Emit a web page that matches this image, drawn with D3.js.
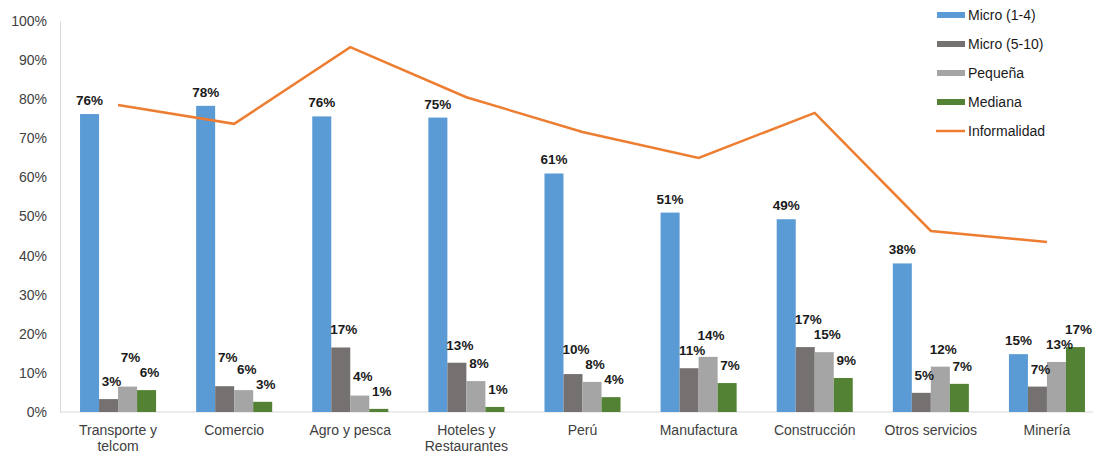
<!DOCTYPE html>
<html><head><meta charset="utf-8">
<script src="https://cdn.jsdelivr.net/npm/d3@7"></script>
<style>body{margin:0;background:#fff}svg{display:block;font-family:"Liberation Sans",Arial,sans-serif}</style>
</head><body><svg id="c" width="1093" height="455"></svg>
<script>
const categories = ["Transporte y|telcom","Comercio","Agro y pesca","Hoteles y|Restaurantes","Perú","Manufactura","Construcción","Otros servicios","Minería"];
const seriesNames = ["Micro (1-4)","Micro (5-10)","Pequeña","Mediana"];
const micro14 = [76.2,78.3,75.6,75.3,61.0,51.0,49.3,38.0,14.8];
const micro510 = [3.3,6.6,16.5,12.6,9.7,11.2,16.6,4.9,6.5];
const pequena = [6.5,5.6,4.2,7.9,7.7,14.1,15.3,11.6,12.8];
const mediana = [5.6,2.6,0.8,1.3,3.8,7.4,8.7,7.2,16.6];
const informalidad = [78.5,73.7,93.3,80.5,71.6,65.0,76.5,46.3,43.5];
const yTicks = [0,10,20,30,40,50,60,70,80,90,100];
const colors = ["#5B9BD5","#767171","#A5A5A5","#548235"];
const lineColor = "#ED7D31";

const svg = d3.select("#c");
const x0 = d3.scaleBand().domain(categories).range([60,1105]).paddingInner(0.345).paddingOuter(0.1725);
const x1 = d3.scaleBand().domain(seriesNames).range([0,x0.bandwidth()]);
const y = d3.scaleLinear().domain([0,100]).range([412,21]);
const series = [micro14,micro510,pequena,mediana];

// axes
const yAxis = svg.append("g").attr("transform","translate(60,0)")
  .call(d3.axisLeft(y).tickValues(yTicks).tickSize(0).tickPadding(13).tickFormat(d=>d+"%"));
yAxis.select(".domain").attr("stroke","#d9d9d9");
yAxis.selectAll("text").attr("font-size",14).attr("fill","#404040").attr("font-family","Liberation Sans, Arial, sans-serif");

svg.append("line").attr("x1",60).attr("x2",1105).attr("y1",y(0)).attr("y2",y(0)).attr("stroke","#d9d9d9");

const xAxis = svg.append("g").attr("transform","translate(0,412)")
  .call(d3.axisBottom(x0).tickSize(0).tickPadding(0).tickFormat(""));
xAxis.select(".domain").remove();
xAxis.selectAll(".tick").each(function(d){
  const parts = d.split("|");
  const t = d3.select(this).append("text").attr("fill","#404040").attr("font-size",14)
    .attr("text-anchor","middle").attr("font-family","Liberation Sans, Arial, sans-serif");
  parts.forEach((p,i)=>t.append("tspan").attr("x",0).attr("y",23+i*16).text(p));
});

// bars
series.forEach((vals,si)=>{
  svg.append("g").selectAll("rect").data(vals).join("rect")
    .attr("x",(d,i)=>x0(categories[i])+x1(seriesNames[si]))
    .attr("y",d=>y(d))
    .attr("width",x1.bandwidth())
    .attr("height",d=>y(0)-y(d))
    .attr("fill",colors[si]);
});

// labels with simple collision avoidance within each group
const lblG = svg.append("g");
categories.forEach((c,i)=>{
  const labs = series.map((vals,si)=>({
    v: vals[i],
    x: x0(c)+x1(seriesNames[si])+x1.bandwidth()/2+(si===0?0:3),
    y: y(vals[i])-(si===0?9:13)
  }));
  for(let k=2;k<4;k++){
    const a=labs[k-1], b=labs[k];
    if(Math.abs(a.y-b.y)<15){
      if(a.y<b.y) a.y=b.y-15; else b.y=a.y-15;
    }
  }
  labs.forEach(l=>{
    lblG.append("text").attr("x",l.x).attr("y",l.y)
      .attr("text-anchor","middle").attr("font-size",13.5).attr("font-weight","bold").attr("fill","#1a1a1a")
      .text(Math.round(l.v)+"%");
  });
});

// line
const line = d3.line().x((d,i)=>x0(categories[i])+x0.bandwidth()/2).y(d=>y(d));
svg.append("path").datum(informalidad).attr("d",line).attr("fill","none").attr("stroke",lineColor).attr("stroke-width",2.5);

// legend
const legendNames = seriesNames.concat(["Informalidad"]);
const lg = svg.append("g");
legendNames.forEach((n,i)=>{
  const yy = 15+i*29;
  if(i<4) lg.append("rect").attr("x",937).attr("y",yy-3).attr("width",28).attr("height",6).attr("fill",colors[i]);
  else lg.append("line").attr("x1",936).attr("x2",965).attr("y1",yy).attr("y2",yy).attr("stroke",lineColor).attr("stroke-width",2.5);
  lg.append("text").attr("x",968).attr("y",yy+5).attr("font-size",14).attr("fill","#1a1a1a").text(n);
});
</script></body></html>
